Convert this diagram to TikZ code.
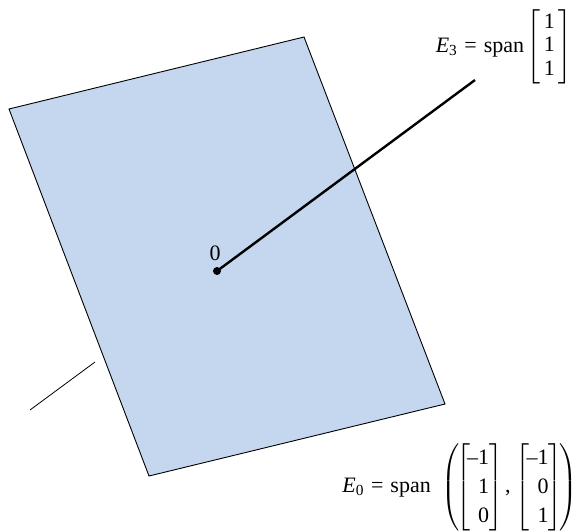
\documentclass[tikz,border=0pt]{standalone}
\usepackage{amsmath}
\usepackage{array}
\usepackage{fontspec}
\setmainfont{Liberation Serif}
\usetikzlibrary{positioning}
\definecolor{cPlane}{RGB}{197,215,238}
\newcommand{\spanlbl}[1]{\textit{E}$_{\text{#1}}$\kern7pt=\kern7pt span}
\newcommand{\colE}[3]{\kern-1.75pt\left[\begin{array}{@{}>{\centering\arraybackslash}p{18.5pt}@{}}#1\\#2\\#3\end{array}\right]\kern-1.75pt}
\newcommand{\cellF}[1]{\makebox[19pt][r]{#1}}
\newcommand{\colF}[3]{\kern-3.25pt\left[\begin{array}{@{}r@{}}\cellF{#1}\\\cellF{#2}\\\cellF{#3}\end{array}\right]\kern-3.25pt}
\tikzset{
	plane/.style={draw=black, fill=cPlane, line width=0.9pt, line join=miter},
	eigline/.style={line width=2.4pt},
	backline/.style={line width=0.8pt},
	lbl/.style={inner sep=0pt, font=\fontsize{22}{23.5}\selectfont},
	origin/.style={circle, fill=black, inner sep=0pt, minimum size=8pt},
}
\begin{document}
\begin{tikzpicture}[x=1pt, y=-1pt]
	\useasboundingbox (0,0) rectangle (577,531);
	\filldraw[plane] (9,109) -- (304,37) -- (445,404) -- (149,476) -- cycle;
	% part of the line behind the plane
	\coordinate (behindA) at (30,410);
	\coordinate (behindB) at (95,362);
	\draw[backline] (behindA) -- (behindB);
	% part of the line in front of it
	\node[origin] (orig) at (217,271) {};
	\coordinate (tipE) at (475,80);
	\draw[eigline] (orig.center) -- (tipE);
	\node[lbl] (zero) at (215,253) {0};
	\node[lbl, anchor=east] (labE) at (571,47) {\spanlbl{3}\kern4pt$\colE{1}{1}{1}$};
	\node[lbl, anchor=east] (labF) at (577.5,487.5) {\renewcommand{\arraystretch}{1.24}\spanlbl{0}\kern10.5pt$\left(\colF{--1}{1}{0}\kern2pt\text{,}\kern5pt\colF{--1}{0}{1}\right)$};
\end{tikzpicture}
\end{document}
